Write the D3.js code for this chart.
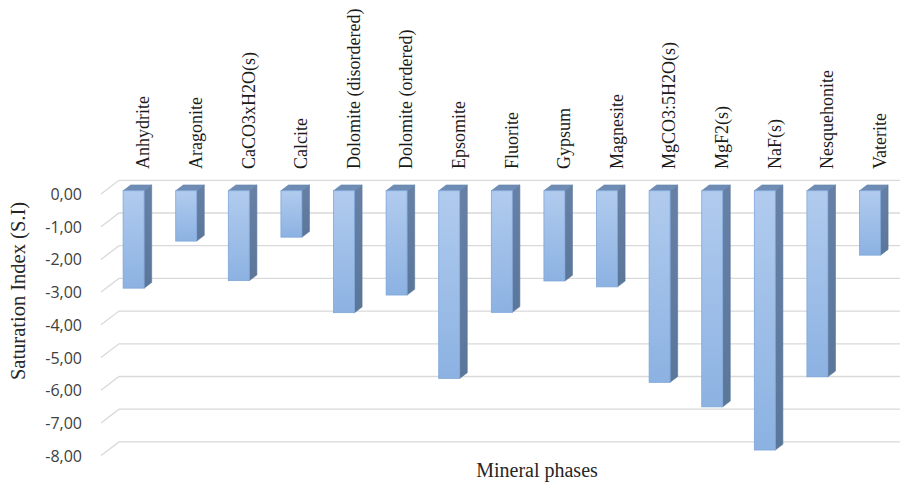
<!DOCTYPE html>
<html>
<head>
<meta charset="utf-8">
<script src="https://cdn.jsdelivr.net/npm/d3@7"></script>
<style>
  html, body { margin: 0; padding: 0; background: #fff; }
  svg { display: block; }
</style>
</head>
<body>
<svg id="chart" width="900" height="484"></svg>
<script>
// Índice de saturación por fase mineral (barras 3D estilo Excel)
const categories = ['Anhydrite', 'Aragonite', 'CaCO3xH2O(s)', 'Calcite', 'Dolomite (disordered)',
  'Dolomite (ordered)', 'Epsomite', 'Fluorite', 'Gypsum', 'Magnesite', 'MgCO3:5H2O(s)',
  'MgF2(s)', 'NaF(s)', 'Nesquehonite', 'Vaterite'];
const siValues = [-2.98, -1.54, -2.75, -1.42, -3.73, -3.19, -5.74, -3.72, -2.76, -2.94, -5.86,
  -6.61, -7.93, -5.69, -1.97];
const yTicks = [0, -1, -2, -3, -4, -5, -6, -7, -8];

const svg = d3.select('#chart');
const W = 900;

// proyección oblicua: profundidad z en [0,1]
const depthX = 18, depthY = 13.7;
const proj = (x, y, z) => [x + z * depthX, y - z * depthY];

const x = d3.scaleBand().domain(categories).range([103, 892]).padding(0);
const y = d3.scaleLinear().domain([0, -8]).range([194, 455.6]);

const fmt = v => v.toFixed(2).replace('.', ',');

// gradientes
const defs = svg.append('defs');
const gFront = defs.append('linearGradient').attr('id', 'frontGrad')
  .attr('x1', 0).attr('y1', 0).attr('x2', 0).attr('y2', 1);
gFront.append('stop').attr('offset', '0%').attr('stop-color', '#b1cbee');
gFront.append('stop').attr('offset', '100%').attr('stop-color', '#8cb2e2');
const gSide = defs.append('linearGradient').attr('id', 'sideGrad')
  .attr('x1', 0).attr('y1', 0).attr('x2', 0).attr('y2', 1);
gSide.append('stop').attr('offset', '0%').attr('stop-color', '#6781a6');
gSide.append('stop').attr('offset', '100%').attr('stop-color', '#5a7699');

// rejilla: diagonal en pared lateral + horizontal en el fondo
const grid = svg.append('g').attr('class', 'grid');
yTicks.forEach(t => {
  const a = proj(101, y(t), 0), b = proj(101, y(t), 1);
  grid.append('path')
    .attr('d', `M${a[0]},${a[1]}L${b[0]},${b[1]}L${W},${b[1]}`)
    .attr('fill', 'none').attr('stroke', '#d9d9d9').attr('stroke-width', 1.3);
});

// etiquetas eje Y
svg.append('g').selectAll('text').data(yTicks).join('text')
  .attr('x', 82).attr('y', d => y(d) + 6)
  .attr('text-anchor', 'end')
  .attr('font-family', 'Open Sans, sans-serif').attr('font-size', 16)
  .attr('fill', '#404040')
  .text(fmt);

// barras
const barW = 21;
const z0 = 0.24, z1 = 0.66;
const bars = svg.append('g').attr('class', 'bars');
categories.forEach((c, i) => {
  const v = siValues[i];
  const xl = x(c) + (x.bandwidth() - barW) / 2;
  const xr = xl + barW;
  const yt = y(0), yb = y(v);
  const p = (xx, yy, z) => proj(xx, yy, z).join(',');
  const g = bars.append('g');
  // cara lateral
  g.append('path')
    .attr('d', `M${p(xr, yt, z0)}L${p(xr, yt, z1)}L${p(xr, yb, z1)}L${p(xr, yb, z0)}Z`)
    .attr('fill', 'url(#sideGrad)').attr('stroke', '#5a7699').attr('stroke-width', 0.6);
  // cara superior
  g.append('path')
    .attr('d', `M${p(xl, yt, z0)}L${p(xl, yt, z1)}L${p(xr, yt, z1)}L${p(xr, yt, z0)}Z`)
    .attr('fill', '#6e8cb4').attr('stroke', '#6585ad').attr('stroke-width', 0.6);
  // cara frontal
  const f = proj(xl, yt, z0);
  g.append('rect')
    .attr('x', f[0]).attr('y', f[1])
    .attr('width', barW).attr('height', yb - yt)
    .attr('fill', 'url(#frontGrad)').attr('stroke', '#7ea6d9').attr('stroke-width', 0.8);
});

// etiquetas de categorías (rotadas)
svg.append('g').selectAll('text').data(categories).join('text')
  .attr('transform', d => `translate(${x(d) + x.bandwidth() / 2 + 20},169) rotate(-90)`)
  .attr('text-anchor', 'start')
  .attr('font-family', 'Liberation Serif, Times New Roman, serif').attr('font-size', 18)
  .attr('fill', '#1a1a1a')
  .text(d => d);

// títulos de ejes
svg.append('text')
  .attr('transform', 'translate(25,291) rotate(-90)')
  .attr('text-anchor', 'middle')
  .attr('font-family', 'Liberation Serif, Times New Roman, serif').attr('font-size', 20.5)
  .attr('fill', '#262626')
  .text('Saturation Index (S.I)');

svg.append('text')
  .attr('x', 537).attr('y', 477)
  .attr('text-anchor', 'middle')
  .attr('font-family', 'Liberation Serif, Times New Roman, serif').attr('font-size', 20)
  .attr('fill', '#262626')
  .text('Mineral phases');
</script>
</body>
</html>
